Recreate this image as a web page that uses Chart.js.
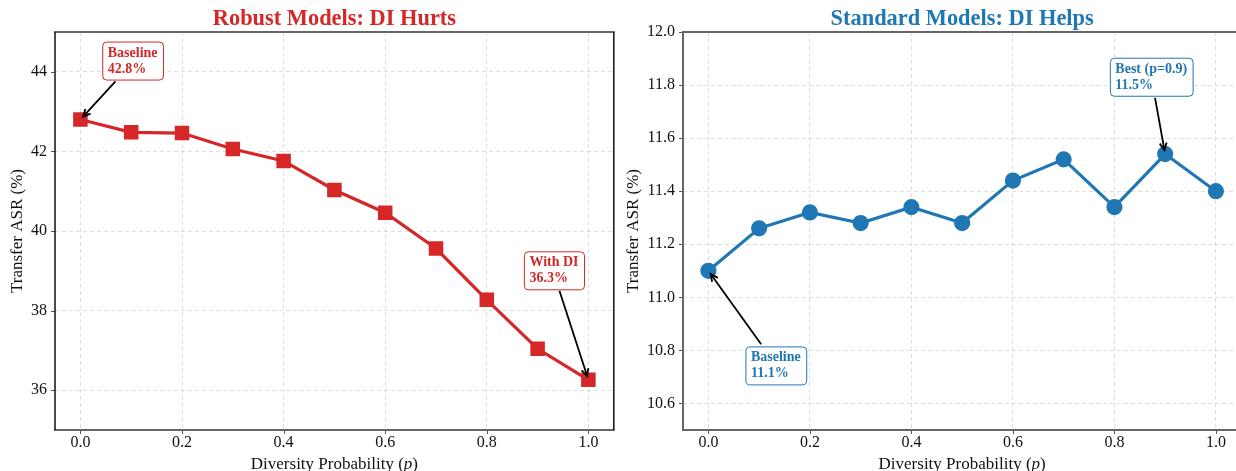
<!DOCTYPE html>
<html>
<head>
<meta charset="utf-8">
<script src="https://cdn.jsdelivr.net/npm/chart.js@4.4.0/dist/chart.umd.min.js"></script>
<style>
  html, body { margin:0; padding:0; background:#fff; overflow:hidden; }
  body { width:1236px; height:471px; position:relative; }
  canvas { position:absolute; top:0; }
  #robust { left:0; }
  #standard { left:620px; }
</style>
</head>
<body>
<canvas id="robust" width="625" height="471" style="width:625px;height:471px"></canvas>
<canvas id="standard" width="631" height="471" style="width:631px;height:471px"></canvas>
<script>
/* ---------------- Data ---------------- */
const pValues = [0.0, 0.1, 0.2, 0.3, 0.4, 0.5, 0.6, 0.7, 0.8, 0.9, 1.0];
const robustASR   = [42.80, 42.48, 42.46, 42.06, 41.76, 41.03, 40.46, 39.56, 38.27, 37.04, 36.26];
const standardASR = [11.10, 11.26, 11.32, 11.28, 11.34, 11.28, 11.44, 11.52, 11.34, 11.54, 11.40];
const xTicks = [0.0, 0.2, 0.4, 0.6, 0.8, 1.0];
const robustYTicks = [36, 38, 40, 42, 44];
const standardYTicks = [10.6, 10.8, 11.0, 11.2, 11.4, 11.6, 11.8, 12.0];

const RED = "#d62728";
const BLUE = "#1f77b4";
const SERIF = '"Liberation Serif", "DejaVu Serif", serif';

/* ---------------- Decorations (title, spines, labels, callouts) ---------------- */
function arrow(ctx, x1, y1, x2, y2, shrink){
  const ang = Math.atan2(y2 - y1, x2 - x1);
  x2 -= Math.cos(ang) * shrink; y2 -= Math.sin(ang) * shrink;
  ctx.strokeStyle = "#000"; ctx.lineWidth = 1.8;
  ctx.beginPath(); ctx.moveTo(x1, y1); ctx.lineTo(x2, y2); ctx.stroke();
  const L = 8, W = 0.45;
  ctx.beginPath();
  ctx.moveTo(x2 - L * Math.cos(ang - W), y2 - L * Math.sin(ang - W));
  ctx.lineTo(x2, y2);
  ctx.lineTo(x2 - L * Math.cos(ang + W), y2 - L * Math.sin(ang + W));
  ctx.stroke();
}

const decor = {
  id: "decor",
  afterDraw(chart, args, o){
    const { ctx, chartArea: a, scales: { x, y } } = chart;
    ctx.save();

    // title
    ctx.font = `bold 22.4px ${SERIF}`;
    ctx.fillStyle = o.color;
    ctx.textAlign = "center"; ctx.textBaseline = "alphabetic";
    ctx.fillText(o.title, (a.left + a.right) / 2, 25);

    // tick marks
    ctx.strokeStyle = "#555"; ctx.lineWidth = 1;
    x.ticks.forEach(t => {
      const px = Math.round(x.getPixelForValue(t.value)) + 0.5;
      ctx.beginPath(); ctx.moveTo(px, a.bottom); ctx.lineTo(px, a.bottom + 4); ctx.stroke();
    });
    y.ticks.forEach(t => {
      const py = Math.round(y.getPixelForValue(t.value)) + 0.5;
      ctx.beginPath(); ctx.moveTo(a.left - 4, py); ctx.lineTo(a.left, py); ctx.stroke();
    });

    // spines
    const sp = o.spines;
    const line = (s, x1, y1, x2, y2) => {
      ctx.strokeStyle = s[0]; ctx.lineWidth = s[1];
      ctx.beginPath(); ctx.moveTo(x1, y1); ctx.lineTo(x2, y2); ctx.stroke();
    };
    line(sp.top, a.left - 1, a.top, a.right + 1, a.top);
    line(sp.bottom, a.left - 1, a.bottom, a.right + 1, a.bottom);
    line(sp.left, a.left, a.top, a.left, a.bottom);
    line(sp.right, a.right, a.top, a.right, a.bottom);

    // x label with italic p
    ctx.fillStyle = "#111";
    ctx.textAlign = "left";
    const fN = `17px ${SERIF}`, fI = `italic 17px ${SERIF}`;
    const parts = [["Diversity Probability (", fN], ["p", fI], [")", fN]];
    let w = 0;
    parts.forEach(p => { ctx.font = p[1]; w += ctx.measureText(p[0]).width; });
    let cx = (a.left + a.right) / 2 - w / 2;
    parts.forEach(p => { ctx.font = p[1]; ctx.fillText(p[0], cx, 469); cx += ctx.measureText(p[0]).width; });

    // y label
    ctx.save();
    ctx.translate(o.ylabelX, (a.top + a.bottom) / 2);
    ctx.rotate(-Math.PI / 2);
    ctx.font = `17px ${SERIF}`; ctx.textAlign = "center"; ctx.textBaseline = "middle";
    ctx.fillText("Transfer ASR (%)", 0, 0);
    ctx.restore();

    // callouts
    o.notes.forEach(n => {
      ctx.font = `bold 14px ${SERIF}`;
      const bx = x.getPixelForValue(n.box[0]), by = y.getPixelForValue(n.box[1]);
      const tw = Math.max(...n.lines.map(s => ctx.measureText(s).width));
      const bw = tw + 11, bh = 38;
      arrow(ctx, x.getPixelForValue(n.tail[0]), y.getPixelForValue(n.tail[1]),
            x.getPixelForValue(n.at[0]), y.getPixelForValue(n.at[1]), 4);
      ctx.beginPath();
      ctx.roundRect(bx + 0.5, by + 0.5, bw, bh, 4);
      ctx.fillStyle = "rgba(255,255,255,0.9)"; ctx.fill();
      ctx.strokeStyle = o.color; ctx.lineWidth = 1; ctx.stroke();
      ctx.fillStyle = o.color; ctx.textAlign = "left"; ctx.textBaseline = "alphabetic";
      n.lines.forEach((s, i) => ctx.fillText(s, bx + 5.5, by + 15 + i * 16));
    });

    ctx.restore();
  }
};

/* ---------------- Charts ---------------- */
function makeChart(id, opts){
  const grid = { color: "rgba(0,0,0,0.13)", lineWidth: 1, drawTicks: false };
  return new Chart(document.getElementById(id), {
    type: "line",
    data: {
      datasets: [{
        data: pValues.map((p, i) => ({ x: p, y: opts.values[i] })),
        borderColor: opts.color, backgroundColor: opts.color,
        borderWidth: 3.2, pointStyle: opts.marker, pointRadius: opts.radius,
        pointHoverRadius: opts.radius, tension: 0
      }]
    },
    options: {
      responsive: false, animation: false, devicePixelRatio: 1,
      layout: { padding: { left: 0, right: opts.padRight, top: 32, bottom: 0 } },
      plugins: { legend: { display: false }, tooltip: { enabled: false }, decor: opts.decor },
      scales: {
        x: {
          type: "linear", min: -0.05, max: 1.05,
          grid, border: { display: false, dash: [4, 3] },
          afterBuildTicks: s => { s.ticks = xTicks.map(v => ({ value: v })); },
          afterFit: s => { s.height = 41; },
          ticks: { padding: 3, color: "#111", font: { family: SERIF, size: 16 },
                   callback: v => Number(v).toFixed(1) }
        },
        y: {
          min: opts.yMin, max: opts.yMax,
          grid, border: { display: false, dash: [4, 3] },
          afterBuildTicks: s => { s.ticks = opts.yTicks.map(v => ({ value: v })); },
          afterFit: s => { s.width = opts.yWidth; },
          ticks: { padding: 8, color: "#111", font: { family: SERIF, size: 16 },
                   callback: v => Number(v).toFixed(opts.yDigits) }
        }
      }
    },
    plugins: [decor]
  });
}

makeChart("robust", {
  values: robustASR, color: RED, marker: "rect", radius: 8,
  yMin: 35, yMax: 45, yTicks: robustYTicks, yDigits: 0, yWidth: 55, padRight: 2,
  decor: {
    title: "Robust Models: DI Hurts", color: RED, ylabelX: 18,
    spines: { top: ["#666", 2], bottom: ["#666", 2], left: ["#111", 1.5], right: ["#111", 1.5] },
    notes: [
      { lines: ["Baseline", "42.8%"], box: [0.043, 44.76], tail: [0.069, 43.76], at: [0.0, 42.8] },
      { lines: ["With DI", "36.3%"], box: [0.873, 39.49], tail: [0.943, 38.50], at: [1.0, 36.26] }
    ]
  }
});

makeChart("standard", {
  values: standardASR, color: BLUE, marker: "circle", radius: 6.5,
  yMin: 10.5, yMax: 12.0, yTicks: standardYTicks, yDigits: 1, yWidth: 63, padRight: 0,
  decor: {
    title: "Standard Models: DI Helps", color: BLUE, ylabelX: 14,
    spines: { top: ["#666", 2], bottom: ["#666", 2], left: ["#666", 2], right: ["#666", 2] },
    notes: [
      { lines: ["Best (p=0.9)", "11.5%"], box: [0.791, 11.903], tail: [0.880, 11.752], at: [0.9, 11.54] },
      { lines: ["Baseline", "11.1%"], box: [0.073, 10.815], tail: [0.104, 10.823], at: [0.0, 11.1] }
    ]
  }
});
</script>
</body>
</html>
